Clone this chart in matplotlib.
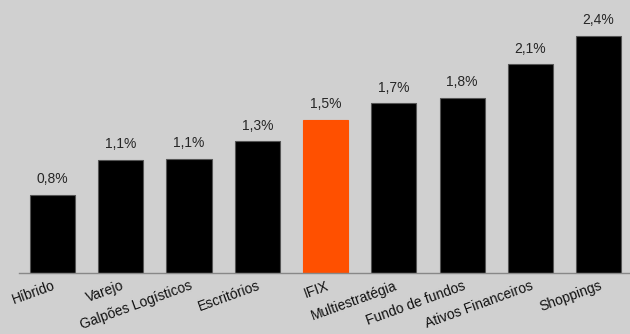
import matplotlib
matplotlib.use("Agg")
import matplotlib.pyplot as plt

categories = ["Híbrido", "Varejo", "Galpões Logísticos", "Escritórios", "IFIX",
              "Multiestratégia", "Fundo de fundos", "Ativos Financeiros", "Shoppings"]
values = [0.80, 1.16, 1.17, 1.35, 1.57, 1.74, 1.80, 2.14, 2.43]
value_labels = ["0,8%", "1,1%", "1,1%", "1,3%", "1,5%", "1,7%", "1,8%", "2,1%", "2,4%"]
highlight = "IFIX"

plt.rcParams["font.family"] = ["Liberation Sans", "DejaVu Sans"]

bg = "#d0d0d0"
fig = plt.figure(figsize=(6.3, 3.34), dpi=100, facecolor=bg)
ax = fig.add_axes([19 / 630, 61 / 334, 611 / 630, 273 / 334])
ax.set_facecolor(bg)

colors = ["#ff5000" if c == highlight else "#000000" for c in categories]
edges = ["#ff5000" if c == highlight else "#555555" for c in categories]
x = range(len(categories))
bars = ax.bar(x, values, width=0.66, color=colors, edgecolor=edges, linewidth=0.8, zorder=2)

for b, lab in zip(bars, value_labels):
    ax.text(b.get_x() + b.get_width() / 2, b.get_height() + 0.09, lab,
            ha="center", va="bottom", fontsize=10, color="#262626")

ax.set_xlim(-0.49, 8.46)
ax.set_ylim(0, 2.8)
ax.set_yticks([])
ax.set_xticks(list(x))
ax.set_xticklabels(categories, rotation=20, ha="right", rotation_mode="anchor",
                   fontsize=10, color="#111111")
ax.tick_params(axis="x", length=0, pad=4)
for s in ["top", "right", "left"]:
    ax.spines[s].set_visible(False)
ax.spines["bottom"].set_color("#888888")
ax.spines["bottom"].set_linewidth(1.0)

fig.savefig("out.png", dpi=100, facecolor=bg)
